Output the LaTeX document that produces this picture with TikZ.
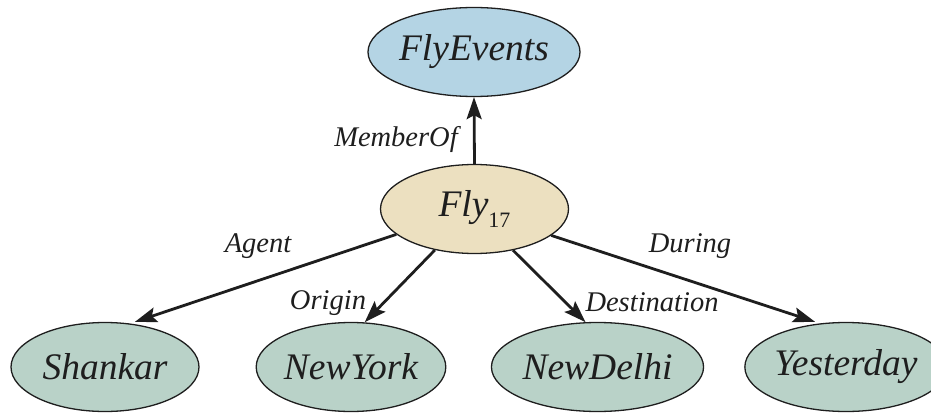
\documentclass[tikz,border=0pt]{standalone}
\usepackage{fontspec}
\setmainfont{Liberation Serif}
\usetikzlibrary{arrows.meta,shapes.geometric}
\definecolor{evblue}{RGB}{180,212,228}
\definecolor{flybeige}{RGB}{236,224,192}
\definecolor{entgreen}{RGB}{185,210,200}
\definecolor{ink}{RGB}{30,30,30}
\begin{document}
\begin{tikzpicture}[x=1pt,y=-1pt,
  ent/.style={ellipse, draw=ink, line width=1.3pt, minimum width=188pt, minimum height=89pt,
    inner sep=0pt, font=\fontsize{37.5}{40}\selectfont\itshape, text=ink},
  rel/.style={font=\fontsize{28.5}{30}\selectfont\itshape, text=ink, inner sep=0pt},
  arr/.style={line width=2.8pt, draw=ink, -{Stealth[length=22pt,width=15pt,inset=4pt]}}]
\useasboundingbox (0,0) rectangle (931,414);

\node[ent, fill=evblue]   (events)    at (474,52)  {FlyEvents};
\node[ent, fill=flybeige] (fly)       at (474.5,209) {Fly\raisebox{-0.28em}{\fontsize{22}{24}\selectfont\upshape 17}};
\node[ent, fill=entgreen] (shankar)   at (105,367) {Shankar};
\node[ent, fill=entgreen] (newyork)   at (351,367) {NewYork};
\node[ent, fill=entgreen] (newdelhi)  at (597.5,367) {NewDelhi};
\node[ent, fill=entgreen] (yesterday) at (846,367) {Yesterday};

\draw[arr] (fly.north) -- (events.south);
\draw[arr, shorten >=5pt] (fly.198.7) -- (shankar.60);
\draw[arr] (fly.226) -- (newyork.73);
\draw[arr] (fly.313.3) -- (newdelhi.105.5);
\draw[arr, shorten >=5pt] (fly.341.7) -- (yesterday.121);

\node[rel] (lmember) at (396,140) {MemberOf};
\node[rel] (lagent)  at (258,246) {Agent};
\node[rel] (lorigin) at (328,303) {Origin};
\node[rel] (ldest)   at (652,302) {Destination};
\node[rel] (lduring) at (690,246) {During};
\end{tikzpicture}
\end{document}
